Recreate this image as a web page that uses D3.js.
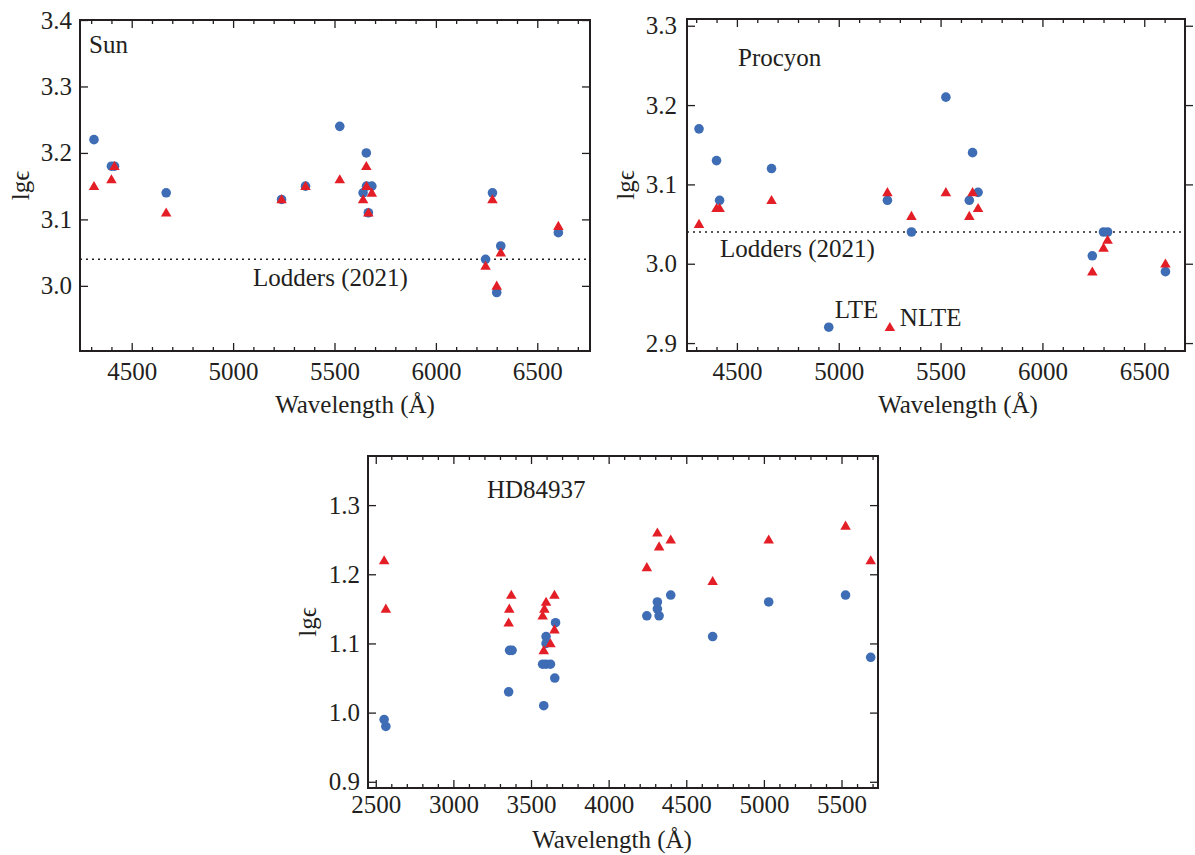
<!DOCTYPE html>
<html>
<head>
<meta charset="utf-8">
<script src="https://cdn.jsdelivr.net/npm/d3@7"></script>
<style>
  html, body { margin: 0; padding: 0; background: #fff; }
  svg text { font-family: "Liberation Serif", "Times New Roman", "DejaVu Serif", serif; fill: #231f20; }
</style>
</head>
<body>
<svg id="fig" width="1195" height="855"></svg>
<script>
// ---- Sc II abundances, lgϵ, per line (LTE = circles, NLTE = triangles) ----
const sunWave  = [4314, 4400, 4415, 4670, 5239, 5357, 5526, 5641, 5657, 5658, 5667, 5684, 6245, 6279, 6300, 6320, 6604];
const sunLTE   = [3.22, 3.18, 3.18, 3.14, 3.13, 3.15, 3.24, 3.14, 3.20, 3.15, 3.11, 3.15, 3.04, 3.14, 2.99, 3.06, 3.08];
const sunNLTE  = [3.15, 3.16, 3.18, 3.11, 3.13, 3.15, 3.16, 3.13, 3.18, 3.15, 3.11, 3.14, 3.03, 3.13, 3.00, 3.05, 3.09];

const procWave = [4314, 4400, 4415, 4670, 5239, 5357, 5526, 5641, 5657, 5684, 6245, 6300, 6320, 6604];
const procLTE  = [3.17, 3.13, 3.08, 3.12, 3.08, 3.04, 3.21, 3.08, 3.14, 3.09, 3.01, 3.04, 3.04, 2.99];
const procNLTE = [3.05, 3.07, 3.07, 3.08, 3.09, 3.06, 3.09, 3.06, 3.09, 3.07, 2.99, 3.02, 3.03, 3.00];

const hdWaveLTE  = [2554, 2565, 3356, 3362, 3378, 3575, 3582, 3597, 3597, 3597, 3625, 3653, 3658, 4246, 4314, 4314, 4325, 4400, 4670, 5031, 5526, 5688];
const hdLTE      = [0.99, 0.98, 1.03, 1.09, 1.09, 1.07, 1.01, 1.07, 1.11, 1.10, 1.07, 1.05, 1.13, 1.14, 1.16, 1.15, 1.14, 1.17, 1.11, 1.16, 1.17, 1.08];
const hdWaveNLTE = [2554, 2565, 3356, 3360, 3373, 3575, 3582, 3586, 3597, 3625, 3651, 3651, 4246, 4314, 4325, 4400, 4670, 5031, 5526, 5688];
const hdNLTE     = [1.22, 1.15, 1.13, 1.15, 1.17, 1.14, 1.09, 1.15, 1.16, 1.10, 1.12, 1.17, 1.21, 1.26, 1.24, 1.25, 1.19, 1.25, 1.27, 1.22];

// solar-system reference value
const lodders2021 = 3.04;

// axis ticks
const xTicksStar = [4500, 5000, 5500, 6000, 6500];
const xTicksHD   = [2500, 3000, 3500, 4000, 4500, 5000, 5500];
const yTicksSun  = [3.0, 3.1, 3.2, 3.3, 3.4];
const yTicksProc = [2.9, 3.0, 3.1, 3.2, 3.3];
const yTicksHD   = [0.9, 1.0, 1.1, 1.2, 1.3];

const BLUE = "#3e6db5";
const RED  = "#e41e26";
const INK  = "#231f20";
const FS   = 25;
const SERIF = '"Liberation Serif", "Times New Roman", "DejaVu Serif", serif';

const svg = d3.select("#fig");

function panel(o) {
  const w = o.right - o.left, h = o.bottom - o.top;
  const g = svg.append("g").attr("transform", `translate(${o.left},${o.top})`);
  const x = d3.scaleLinear().domain(o.xDomain).range([0, w]);
  const y = d3.scaleLinear().domain(o.yDomain).range([h, 0]);

  const minor = d3.range(Math.ceil(o.xDomain[0] / 100) * 100, o.xDomain[1], 100)
    .filter(v => v % 500 !== 0);

  const style = sel => {
    sel.attr("font-family", SERIF).attr("font-size", FS);
    sel.select(".domain").remove();
    sel.selectAll("line").attr("stroke", INK).attr("stroke-width", 1.3);
    sel.selectAll("text")
      .style("font-family", SERIF).style("font-size", FS + "px").attr("fill", INK);
  };

  // bottom / top ticks (inward)
  g.append("g").attr("transform", `translate(0,${h})`)
    .call(d3.axisBottom(x).tickValues(o.xTicks).tickFormat(d3.format("d")).tickSize(-8).tickPadding(o.xPad))
    .call(style);
  g.append("g").attr("transform", `translate(0,${h})`)
    .call(d3.axisBottom(x).tickValues(minor).tickFormat("").tickSize(-4)).call(style);
  g.append("g")
    .call(d3.axisTop(x).tickValues(o.xTicks).tickFormat("").tickSize(-8)).call(style);
  g.append("g")
    .call(d3.axisTop(x).tickValues(minor).tickFormat("").tickSize(-4)).call(style);

  // left / right ticks
  g.append("g")
    .call(d3.axisLeft(y).tickValues(o.yTicks).tickFormat(d3.format(".1f")).tickSize(-8).tickPadding(o.yPad))
    .call(style);
  g.append("g").attr("transform", `translate(${w},0)`)
    .call(d3.axisRight(y).tickValues(o.yTicks).tickFormat("").tickSize(o.rightOut ? 8 : -8)).call(style);

  // frame
  g.append("rect").attr("width", w).attr("height", h)
    .attr("fill", "none").attr("stroke", INK).attr("stroke-width", 2);

  // reference abundance
  if (o.refLine) {
    g.append("line")
      .attr("x1", 0).attr("x2", w)
      .attr("y1", y(lodders2021)).attr("y2", y(lodders2021))
      .attr("stroke", INK).attr("stroke-width", 1.5).attr("stroke-dasharray", "2,4");
    g.append("text").attr("x", o.refLabel[0]).attr("y", o.refLabel[1])
      .style("font-size", FS + "px").text("Lodders (2021)");
  }

  // LTE circles
  g.append("g").selectAll("circle")
    .data(o.waveLTE.map((wv, i) => [wv, o.lte[i]]))
    .join("circle")
    .attr("cx", d => x(d[0])).attr("cy", d => y(d[1])).attr("r", 4.8)
    .attr("fill", BLUE);

  // NLTE triangles
  const tri = d3.symbol().type(d3.symbolTriangle).size(48);
  g.append("g").selectAll("path")
    .data(o.waveNLTE.map((wv, i) => [wv, o.nlte[i]]))
    .join("path")
    .attr("d", tri)
    .attr("transform", d => `translate(${x(d[0])},${y(d[1]) + 0.8})`)
    .attr("fill", RED);

  // star name
  g.append("text").attr("x", o.name[1]).attr("y", o.name[2])
    .style("font-size", FS + "px").text(o.name[0]);

  // axis titles
  g.append("text").attr("x", o.xTitle[0]).attr("y", o.xTitle[1])
    .attr("text-anchor", "middle").style("font-size", FS + "px")
    .text("Wavelength (Å)");
  g.append("text")
    .attr("transform", `translate(${o.yTitleX},${h / 2}) rotate(-90)`)
    .attr("text-anchor", "middle").attr("dy", "0.35em")
    .style("font-size", FS + "px").text("lg\u03F5");

  return { g, x, y };
}

panel({
  left: 80, right: 590, top: 20, bottom: 351,
  xDomain: [4245, 6760], yDomain: [2.902, 3.4],
  xTicks: xTicksStar, yTicks: yTicksSun, xPad: 11, yPad: 8,
  waveLTE: sunWave, lte: sunLTE, waveNLTE: sunWave, nlte: sunNLTE,
  refLine: true, refLabel: [173, 266],
  name: ["Sun", 9, 33],
  xTitle: [275, 393], yTitleX: -60
});

const proc = panel({
  left: 687, right: 1185, top: 19, bottom: 351,
  xDomain: [4255, 6700], yDomain: [2.89, 3.3085],
  xTicks: xTicksStar, yTicks: yTicksProc, xPad: 11, yPad: 10,
  waveLTE: procWave, lte: procLTE, waveNLTE: procWave, nlte: procNLTE,
  refLine: true, refLabel: [33, 238],
  name: ["Procyon", 51, 47],
  xTitle: [271, 394], yTitleX: -62, rightOut: true
});

// LTE / NLTE key
(function key() {
  const { g, x, y } = proc;
  g.append("circle").attr("cx", x(4951)).attr("cy", y(2.92)).attr("r", 4.8).attr("fill", BLUE);
  g.append("path").attr("d", d3.symbol().type(d3.symbolTriangle).size(48))
    .attr("transform", `translate(${x(5251)},${y(2.92) + 0.8})`).attr("fill", RED);
  g.append("text").attr("x", x(4951) + 6).attr("y", y(2.92) - 9)
    .style("font-size", FS + "px").text("LTE");
  g.append("text").attr("x", x(5251) + 10).attr("y", y(2.92) - 1)
    .style("font-size", FS + "px").text("NLTE");
})();

panel({
  left: 368, right: 878, top: 456, bottom: 788,
  xDomain: [2450, 5735], yDomain: [0.891, 1.371],
  xTicks: xTicksHD, yTicks: yTicksHD, xPad: 7.5, yPad: 8,
  waveLTE: hdWaveLTE, lte: hdLTE, waveNLTE: hdWaveNLTE, nlte: hdNLTE,
  refLine: false,
  name: ["HD84937", 119, 42],
  xTitle: [244, 392], yTitleX: -61
});
</script>
</body>
</html>
